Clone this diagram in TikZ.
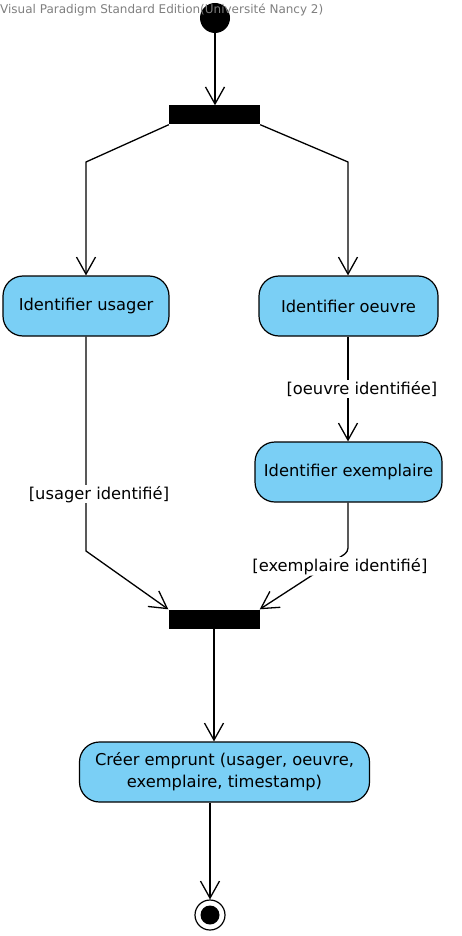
\documentclass[tikz,border=0pt]{standalone}
\usepackage{fontspec}
\setmainfont{DejaVu Sans}
\usetikzlibrary{arrows.meta}
\definecolor{actblue}{HTML}{7ACFF5}
\definecolor{vpgray}{HTML}{7F7F7F}
\tikzset{
    action/.style={draw, fill=actblue, line width=1.2pt, rounded corners=20pt, minimum height=60pt, inner sep=0pt, align=center, font=\fontsize{16.3}{22}\selectfont},
    syncbar/.style={fill=black, minimum width=91pt, minimum height=19pt, inner sep=0pt},
    flow/.style={line width=1.3pt, -{Straight Barb[length=17pt, width=19pt, line width=1.3pt]}},
    guard/.style={fill=white, inner sep=1pt, font=\fontsize{16.3}{20}\selectfont}
}
\begin{document}
\begin{tikzpicture}[x=1pt, y=-1pt]
    \useasboundingbox (0,0) rectangle (461,936);
    % Start and fork
    \node[circle, fill=black, minimum size=30pt, inner sep=0pt] (start) at (215,18) {};
    \node[syncbar] (fork) at (214.5,115) {};
    % Actions
    \node[action, minimum width=166pt] (usager) at (86,306) {Identifier usager};
    \node[action, minimum width=179pt] (oeuvre) at (348.5,306) {Identifier oeuvre};
    \node[action, minimum width=187pt] (exemplaire) at (348.5,472) {Identifier exemplaire};
    % Join
    \node[syncbar] (join) at (214,619) {};
    \node[action, minimum width=290pt] (creer) at (224.5,772) {Créer emprunt (usager, oeuvre,\\exemplaire, timestamp)};
    % End point
    \node[circle, draw, line width=1.2pt, fill=white, minimum size=30pt, inner sep=0pt] (stop) at (210,915) {};
    \node[circle, fill=black, minimum size=19pt, inner sep=0pt] (stopdot) at (stop) {};
    % Bend points
    \coordinate (forkL) at (86,162);
    \coordinate (forkR) at (348,162);
    \coordinate (usagerB) at (86,551);
    \coordinate (exemplaireB) at (348,552);

    % Transitions
    \draw[flow] (start) -- (start |- fork.north);
    \draw[flow] (fork.south west) -- (forkL) -- (forkL |- usager.north);
    \draw[flow] (fork.south east) -- (forkR) -- (forkR |- oeuvre.north);
    \draw[flow] (forkR |- oeuvre.south) -- node[guard, xshift=14pt] (gOeuvre) {[oeuvre identifiée]} (forkR |- exemplaire.north);
    \draw[flow] (usager) -- node[guard, pos=0.735, xshift=13pt] (gUsager) {[usager identifié]} (usagerB) -- (join.north west);
    \draw[flow, rounded corners=4pt] (forkR |- exemplaire.south) -- (exemplaireB) -- node[guard, pos=0.25, xshift=14pt] (gExemplaire) {[exemplaire identifié]} (join.north east);
    \draw[flow] (join.south) -- (join.south |- creer.north);
    \draw[flow] (stop |- creer.south) -- (stop);

    % Header
    \node[anchor=west, inner sep=0pt, text=vpgray, font=\fontsize{12}{14}\selectfont] (header) at (0,10) {Visual Paradigm Standard Edition(Université Nancy 2)};
\end{tikzpicture}
\end{document}
